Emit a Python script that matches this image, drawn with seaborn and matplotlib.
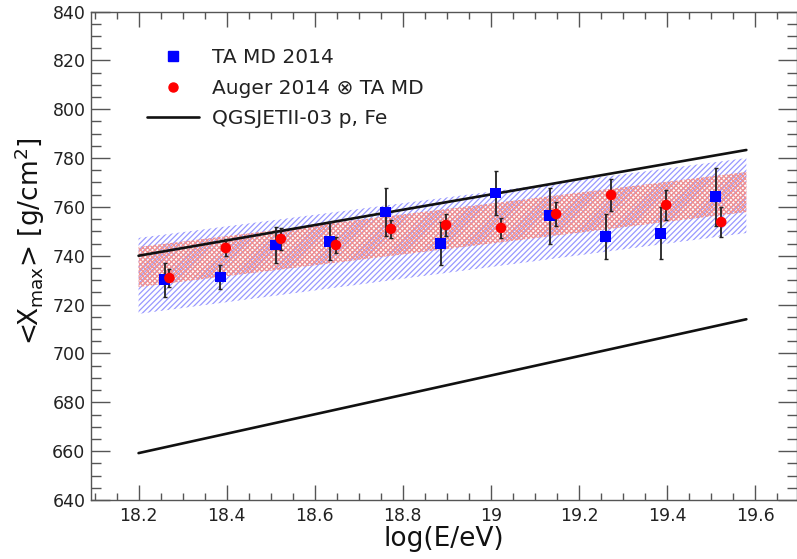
import numpy as np
import pandas as pd
import matplotlib
matplotlib.use("Agg")
import matplotlib.pyplot as plt
from matplotlib.ticker import MultipleLocator, FixedLocator
from matplotlib.lines import Line2D
import seaborn as sns

# ---- data ----
energy_ta = [18.259, 18.386, 18.511, 18.634, 18.761, 18.886, 19.011, 19.134, 19.261, 19.386, 19.511]
xmax_ta = [730.1, 731.3, 744.4, 746.0, 757.9, 745.2, 765.7, 756.3, 747.7, 749.3, 764.1]
err_ta = [7.0, 5.0, 7.4, 7.8, 10.0, 8.8, 9.0, 11.3, 9.2, 10.6, 11.9]

energy_auger = [18.270, 18.398, 18.523, 18.648, 18.773, 18.898, 19.023, 19.148, 19.273, 19.398, 19.523]
xmax_auger = [730.9, 743.2, 746.9, 744.4, 751.0, 752.6, 751.4, 757.1, 764.9, 760.8, 753.8]
err_auger = [3.5, 3.5, 4.5, 3.3, 3.7, 4.5, 4.0, 5.0, 6.5, 6.3, 6.0]

model_energy = [18.2, 19.58]
model_p = [740.0, 783.3]
model_fe = [659.2, 714.0]

band_energy = [18.2, 19.58]
ta_band_lo = [716.2, 749.3]
ta_band_hi = [747.3, 780.0]
auger_band_lo = [727.2, 757.9]
auger_band_hi = [743.6, 774.3]

xticks = [18.2, 18.4, 18.6, 18.8, 19.0, 19.2, 19.4, 19.6]
xticklabels = ["18.2", "18.4", "18.6", "18.8", "19", "19.2", "19.4", "19.6"]
yticks = [640, 660, 680, 700, 720, 740, 760, 780, 800, 820, 840]

label_ta = "TA MD 2014"
label_auger = "Auger 2014 \u2297 TA MD"
label_model = "QGSJETII-03 p, Fe"

# ---- style ----
sns.set_theme(style="ticks")
plt.rcParams["font.family"] = ["DejaVu Sans"]
plt.rcParams["mathtext.fontset"] = "dejavusans"
plt.rcParams["hatch.linewidth"] = 0.9

fig = plt.figure(figsize=(7.97, 5.59), dpi=100)
ax = fig.add_axes([91 / 797, 59 / 559, 706 / 797, 488.5 / 559])

# bands
ax.fill_between(band_energy, ta_band_lo, ta_band_hi, facecolor="none",
                edgecolor="#9898ff", linewidth=0, hatch="//////", zorder=1)
ax.fill_between(band_energy, auger_band_lo, auger_band_hi, facecolor="none",
                edgecolor="#f09090", linewidth=0, hatch="xxxxxxx", zorder=1.5)

# model lines
df_model = pd.DataFrame({
    "energy": model_energy * 2,
    "xmax": model_p + model_fe,
    "model": ["p"] * len(model_energy) + ["Fe"] * len(model_energy),
})
sns.lineplot(data=df_model, x="energy", y="xmax", units="model", estimator=None,
             color="#111111", linewidth=1.9, ax=ax, zorder=2, legend=False)

# error bars
ax.errorbar(energy_ta, xmax_ta, yerr=err_ta, fmt="none", ecolor="#222222",
            elinewidth=1.3, capsize=1.5, capthick=1.0, zorder=3)
ax.errorbar(energy_auger, xmax_auger, yerr=err_auger, fmt="none", ecolor="#222222",
            elinewidth=1.3, capsize=1.5, capthick=1.0, zorder=3)

# points
df_ta = pd.DataFrame({"energy": energy_ta, "xmax": xmax_ta})
df_auger = pd.DataFrame({"energy": energy_auger, "xmax": xmax_auger})
sns.scatterplot(data=df_ta, x="energy", y="xmax", marker="s", s=62, color="#0000ff",
                edgecolor="none", ax=ax, zorder=4)
sns.scatterplot(data=df_auger, x="energy", y="xmax", marker="o", s=58, color="#ff0000",
                edgecolor="none", ax=ax, zorder=5)

# axes
ax.set_xlim(18.092, 19.695)
ax.set_ylim(640, 840)
ax.xaxis.set_major_locator(FixedLocator(xticks))
ax.set_xticklabels(xticklabels)
ax.xaxis.set_minor_locator(MultipleLocator(0.05))
ax.yaxis.set_major_locator(FixedLocator(yticks))
ax.yaxis.set_minor_locator(MultipleLocator(5))

ax.tick_params(axis="both", which="both", direction="in", top=True, right=True,
               colors="#555555", labelcolor="#222222")
ax.tick_params(axis="x", which="major", length=11, width=1.0, labelsize=12.5, pad=5)
ax.tick_params(axis="x", which="minor", length=5, width=1.0)
ax.tick_params(axis="y", which="major", length=14, width=1.0, labelsize=12.5, pad=4)
ax.tick_params(axis="y", which="minor", length=7, width=1.0)
for sp in ax.spines.values():
    sp.set_color("#555555")
    sp.set_linewidth(1.0)

ax.set_xlabel("log(E/eV)", fontsize=19, color="#111111", labelpad=1)
ax.set_ylabel(r"<X$_{\rm max}$> [g/cm$^{2}$]", fontsize=19, color="#111111", labelpad=3)
ax.yaxis.set_label_coords(-0.062, 0.53)

handles = [
    Line2D([], [], marker="s", linestyle="none", color="#0000ff", markersize=7),
    Line2D([], [], marker="o", linestyle="none", color="#ff0000", markersize=6.5),
    Line2D([], [], color="#111111", linewidth=1.9),
]
leg = ax.legend(handles, [label_ta, label_auger, label_model], loc="upper left",
                bbox_to_anchor=(147 / 797, 1 - 48 / 559), bbox_transform=fig.transFigure,
                frameon=False, fontsize=14.5, handlelength=2.6, handletextpad=0.62,
                labelspacing=0.58, borderpad=0, borderaxespad=0)
for t in leg.get_texts():
    t.set_color("#222222")

fig.savefig("out.png", dpi=100)
